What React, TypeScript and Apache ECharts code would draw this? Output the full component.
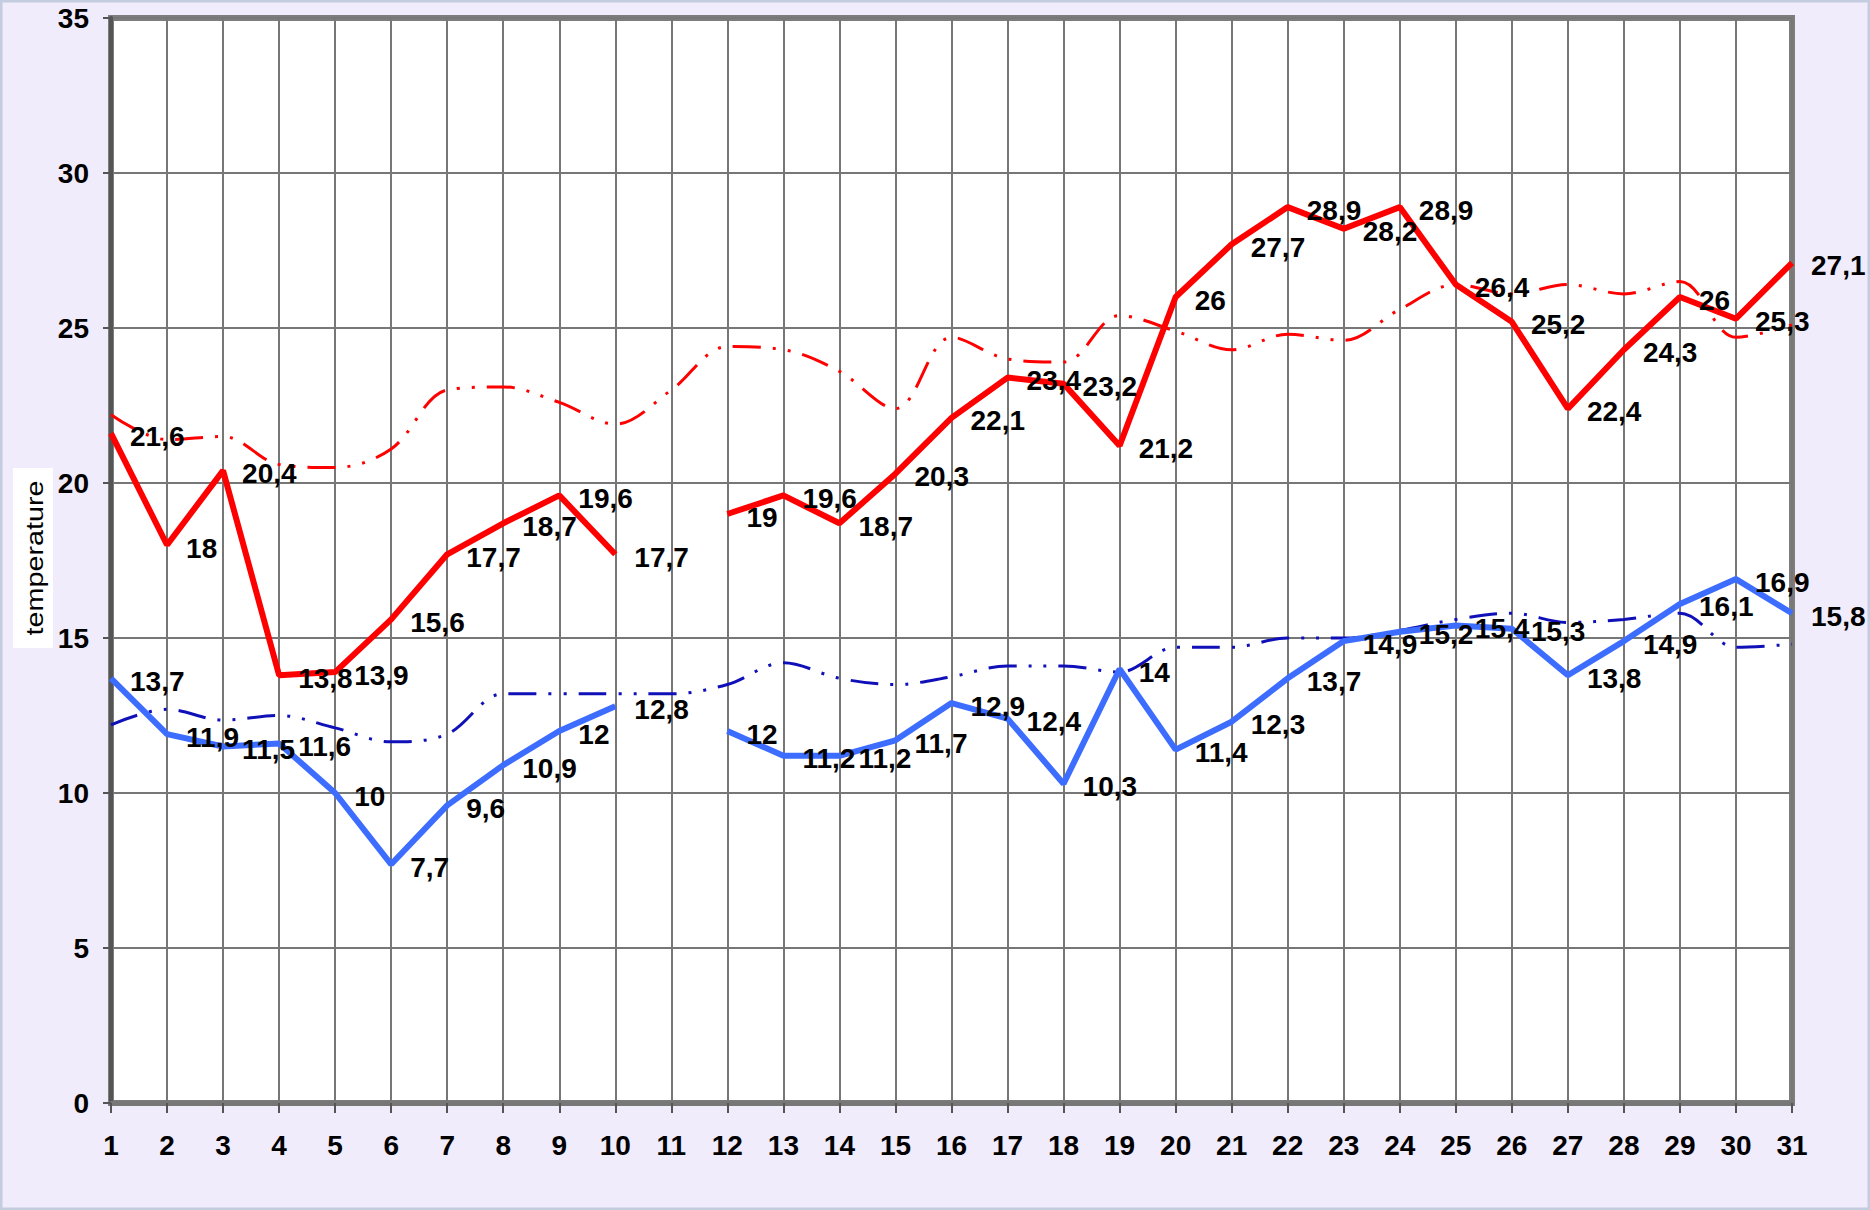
import React, { useEffect, useRef } from "react";
import * as echarts from "echarts";

const days = Array.from({ length: 31 }, (_, i) => String(i + 1));
const yTicks = [0, 5, 10, 15, 20, 25, 30, 35];

const maxTemp = [21.6, 18, 20.4, 13.8, 13.9, 15.6, 17.7, 18.7, 19.6, 17.7, null, 19, 19.6, 18.7, 20.3, 22.1, 23.4, 23.2, 21.2, 26, 27.7, 28.9, 28.2, 28.9, 26.4, 25.2, 22.4, 24.3, 26, 25.3, 27.1];
const minTemp = [13.7, 11.9, 11.5, 11.6, 10, 7.7, 9.6, 10.9, 12, 12.8, null, 12, 11.2, 11.2, 11.7, 12.9, 12.4, 10.3, 14, 11.4, 12.3, 13.7, 14.9, 15.2, 15.4, 15.3, 13.8, 14.9, 16.1, 16.9, 15.8];
const normalMax = [22.2, 21.4, 21.5, 20.6, 20.5, 21.1, 23.0, 23.1, 22.6, 21.9, 23.0, 24.4, 24.3, 23.6, 22.4, 24.7, 24.0, 23.9, 25.4, 24.9, 24.3, 24.8, 24.6, 25.6, 26.4, 26.1, 26.4, 26.1, 26.5, 24.7, 25.1];
const normalMin = [12.2, 12.7, 12.35, 12.5, 12.1, 11.65, 11.9, 13.2, 13.2, 13.2, 13.2, 13.5, 14.2, 13.7, 13.5, 13.75, 14.1, 14.1, 13.9, 14.7, 14.7, 15.0, 15.0, 15.25, 15.6, 15.8, 15.5, 15.6, 15.8, 14.7, 14.8];

const FONT = "'Liberation Sans', Arial, sans-serif";

export default function App() {
  const ref = useRef<HTMLDivElement>(null);
  useEffect(() => {
    document.body.style.margin = "0";
    const chart = echarts.init(ref.current!, undefined, { renderer: "svg" });
    const dashPattern = [28, 12, 3, 12, 3, 12];
    const labelCfg = {
      show: true,
      position: "right",
      distance: 19,
      offset: [0, 3],
      color: "#000",
      fontFamily: FONT,
      fontWeight: "bold",
      fontSize: 28,
      formatter: (p: any) => String(p.value).replace(".", ","),
    };
    chart.setOption({
      animation: false,
      backgroundColor: "#f0ecfc",
      grid: {
        left: 111,
        right: 78,
        top: 18,
        bottom: 107,
        show: true,
        backgroundColor: "#ffffff",
        borderColor: "#7d7d7d",
        borderWidth: 6,
      },
      graphic: [
        {
          type: "rect",
          shape: { x: 1, y: 1, width: 1868, height: 1208 },
          style: { fill: "none", stroke: "#c4cce0", lineWidth: 3 },
          silent: true,
        },
        {
          type: "rect",
          shape: { x: 13, y: 468, width: 40, height: 180 },
          style: { fill: "#ffffff" },
          silent: true,
        },
        {
          type: "text",
          x: 35,
          y: 558,
          rotation: Math.PI / 2,
          scaleX: 1.25,
          style: {
            text: "temperature",
            fill: "#000",
            font: `23px ${FONT}`,
            align: "center",
            verticalAlign: "middle",
          },
          silent: true,
        },
      ],
      xAxis: {
        type: "category",
        data: days,
        boundaryGap: false,
        axisLine: { show: true, lineStyle: { color: "#777", width: 5 } },
        axisTick: { show: true, alignWithLabel: true, length: 10, lineStyle: { color: "#555", width: 2 } },
        axisLabel: {
          interval: 0,
          margin: 28,
          color: "#000",
          fontFamily: FONT,
          fontWeight: "bold",
          fontSize: 28,
        },
        splitLine: { show: true, lineStyle: { color: "#777", width: 2 } },
      },
      yAxis: {
        type: "value",
        min: yTicks[0],
        max: yTicks[yTicks.length - 1],
        interval: 5,
        axisLine: { show: true, lineStyle: { color: "#555", width: 4 } },
        axisTick: { show: true, length: 8, lineStyle: { color: "#555", width: 2 } },
        axisLabel: {
          margin: 22,
          color: "#000",
          fontFamily: FONT,
          fontWeight: "bold",
          fontSize: 28,
        },
        splitLine: { show: true, lineStyle: { color: "#777", width: 2 } },
      },
      series: [
        {
          name: "normal max",
          type: "line",
          data: normalMax,
          smooth: 0.35,
          symbol: "none",
          lineStyle: { color: "#ff0000", width: 3, type: dashPattern },
          z: 2,
        },
        {
          name: "normal min",
          type: "line",
          data: normalMin,
          smooth: 0.35,
          symbol: "none",
          lineStyle: { color: "#1010b8", width: 3, type: dashPattern },
          z: 2,
        },
        {
          name: "min",
          type: "line",
          data: minTemp,
          symbol: "circle",
          symbolSize: 0.1,
          itemStyle: { color: "rgba(0,0,0,0)" },
          lineStyle: { color: "#3d6dff", width: 6 },
          label: labelCfg,
          z: 3,
        },
        {
          name: "max",
          type: "line",
          data: maxTemp,
          symbol: "circle",
          symbolSize: 0.1,
          itemStyle: { color: "rgba(0,0,0,0)" },
          lineStyle: { color: "#ff0000", width: 6 },
          label: labelCfg,
          z: 4,
        },
      ],
    });
    return () => chart.dispose();
  }, []);
  return <div ref={ref} style={{ width: 1870, height: 1210 }} />;
}
